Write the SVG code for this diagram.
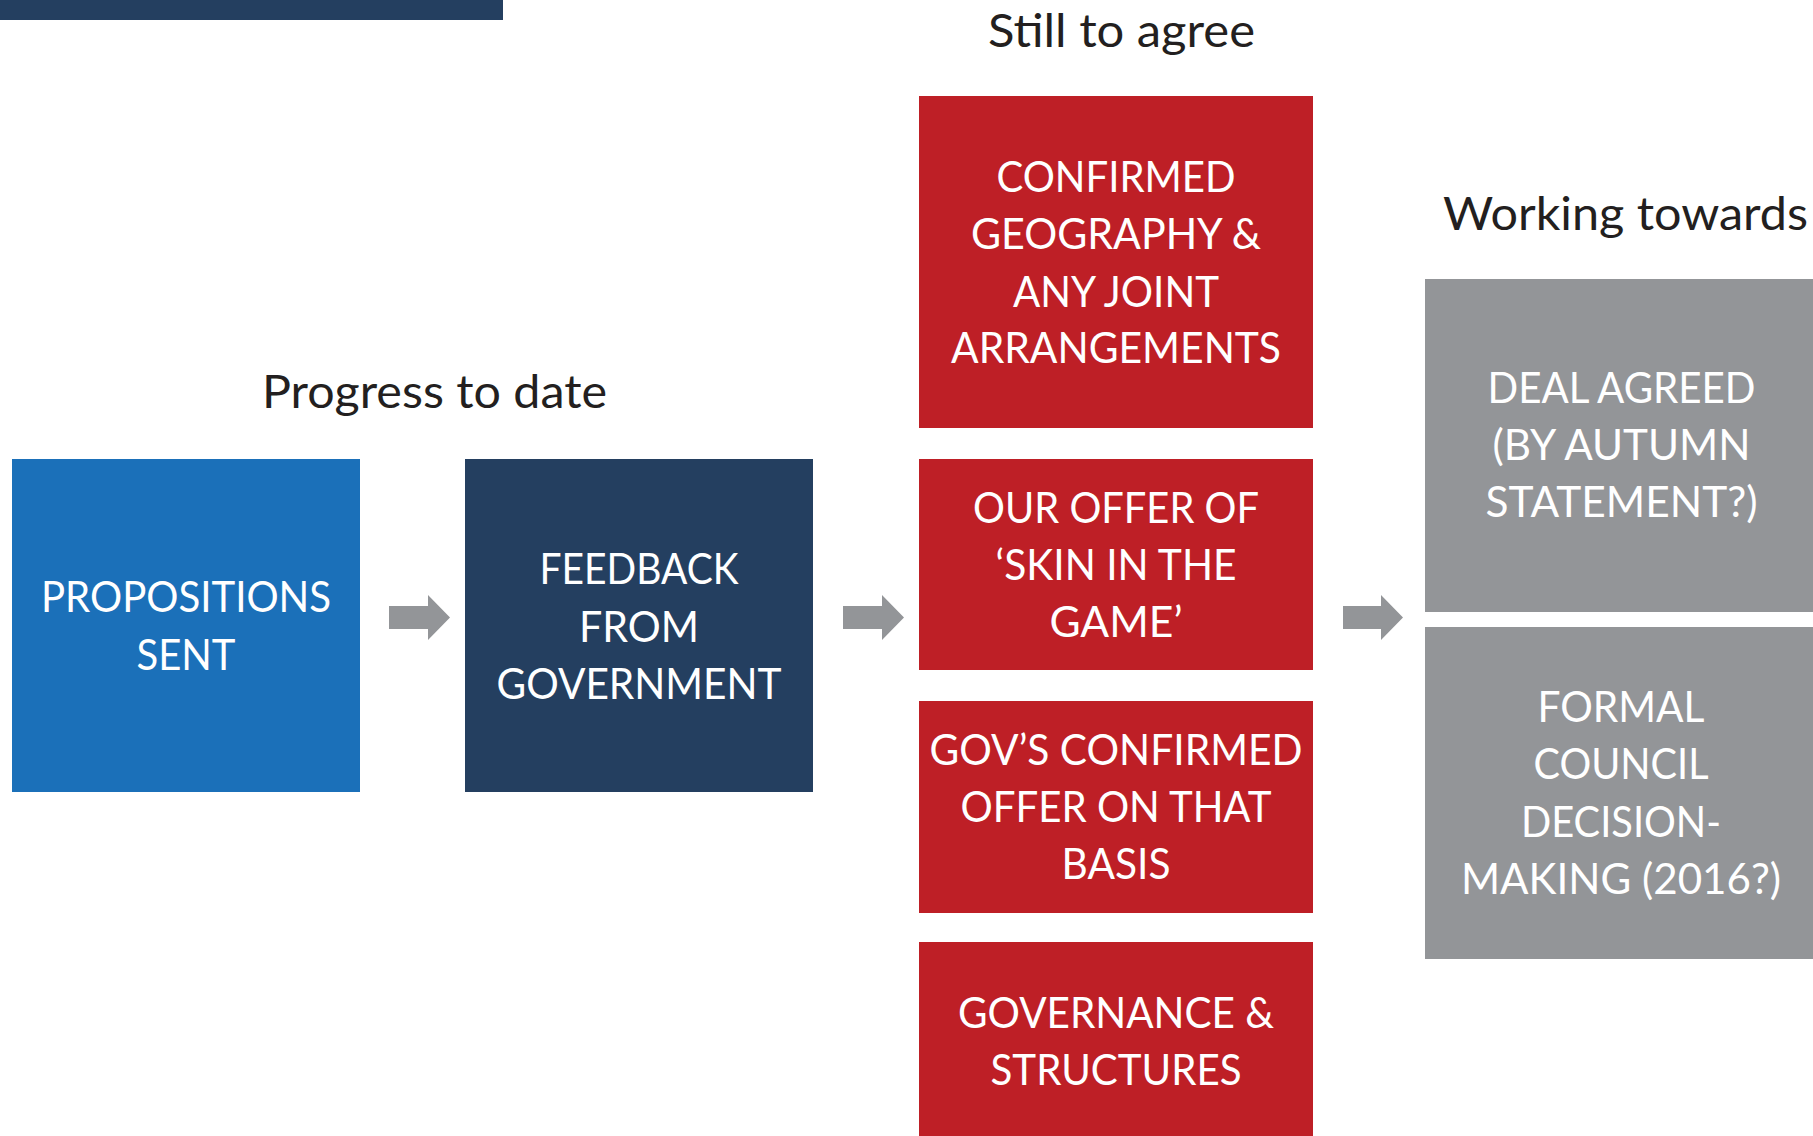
<svg xmlns="http://www.w3.org/2000/svg" width="1813" height="1136" viewBox="0 0 1813 1136">
<style>
.hdr{font-family:Lato,"Open Sans","Liberation Sans",sans-serif;font-size:46.5px;fill:#231f20;text-anchor:middle}
.lbl{font-family:Lato,"Open Sans","Liberation Sans",sans-serif;font-size:42.5px;fill:#ffffff;text-anchor:middle}
.blue{fill:#1b70b9}
.navy{fill:#243f60}
.red{fill:#be1f26}
.grey{fill:#939598}
.arrow{fill:#939598}
</style>
<rect x="0" y="0" width="503" height="20" class="navy"/>
<text class="hdr" x="434.5" y="408" textLength="345" lengthAdjust="spacingAndGlyphs">Progress to date</text>
<text class="hdr" x="1121.5" y="47" textLength="267" lengthAdjust="spacingAndGlyphs">Still to agree</text>
<text class="hdr" x="1625.5" y="230" textLength="365" lengthAdjust="spacingAndGlyphs">Working towards</text>

<g id="propositions">
<rect x="12" y="459" width="348" height="333" class="blue"/>
<text class="lbl" x="186" y="612" textLength="290" lengthAdjust="spacingAndGlyphs">PROPOSITIONS</text>
<text class="lbl" x="186" y="670" textLength="99" lengthAdjust="spacingAndGlyphs">SENT</text>
</g>
<g id="feedback">
<rect x="465" y="459" width="348" height="333" class="navy"/>
<text class="lbl" x="639" y="584" textLength="199" lengthAdjust="spacingAndGlyphs">FEEDBACK</text>
<text class="lbl" x="639" y="641.5" textLength="120" lengthAdjust="spacingAndGlyphs">FROM</text>
<text class="lbl" x="639" y="699" textLength="285" lengthAdjust="spacingAndGlyphs">GOVERNMENT</text>
</g>
<g id="geography">
<rect x="919" y="96" width="394" height="332" class="red"/>
<text class="lbl" x="1116" y="191.5" textLength="239" lengthAdjust="spacingAndGlyphs">CONFIRMED</text>
<text class="lbl" x="1116" y="249" textLength="290" lengthAdjust="spacingAndGlyphs">GEOGRAPHY &amp;</text>
<text class="lbl" x="1116" y="306.5" textLength="206" lengthAdjust="spacingAndGlyphs">ANY JOINT</text>
<text class="lbl" x="1116" y="363" textLength="330" lengthAdjust="spacingAndGlyphs">ARRANGEMENTS</text>
</g>
<g id="offer">
<rect x="919" y="459" width="394" height="211" class="red"/>
<text class="lbl" x="1116" y="523" textLength="286" lengthAdjust="spacingAndGlyphs">OUR OFFER OF</text>
<text class="lbl" x="1116" y="580" textLength="241" lengthAdjust="spacingAndGlyphs">‘SKIN IN THE</text>
<text class="lbl" x="1116" y="637" textLength="133" lengthAdjust="spacingAndGlyphs">GAME’</text>
</g>
<g id="gov-offer">
<rect x="919" y="701" width="394" height="212" class="red"/>
<text class="lbl" x="1116" y="765" textLength="373" lengthAdjust="spacingAndGlyphs">GOV’S CONFIRMED</text>
<text class="lbl" x="1116" y="822" textLength="311" lengthAdjust="spacingAndGlyphs">OFFER ON THAT</text>
<text class="lbl" x="1116" y="879" textLength="109" lengthAdjust="spacingAndGlyphs">BASIS</text>
</g>
<g id="governance">
<rect x="919" y="942" width="394" height="194" class="red"/>
<text class="lbl" x="1116" y="1028" textLength="316" lengthAdjust="spacingAndGlyphs">GOVERNANCE &amp;</text>
<text class="lbl" x="1116" y="1085" textLength="251" lengthAdjust="spacingAndGlyphs">STRUCTURES</text>
</g>
<g id="deal">
<rect x="1425" y="279" width="393" height="333" class="grey"/>
<text class="lbl" x="1621.5" y="403" textLength="268" lengthAdjust="spacingAndGlyphs">DEAL AGREED</text>
<text class="lbl" x="1621.5" y="460" textLength="258" lengthAdjust="spacingAndGlyphs">(BY AUTUMN</text>
<text class="lbl" x="1621.5" y="517" textLength="272" lengthAdjust="spacingAndGlyphs">STATEMENT?)</text>
</g>
<g id="council">
<rect x="1425" y="627" width="393" height="332" class="grey"/>
<text class="lbl" x="1621" y="722" textLength="167" lengthAdjust="spacingAndGlyphs">FORMAL</text>
<text class="lbl" x="1621" y="779" textLength="175" lengthAdjust="spacingAndGlyphs">COUNCIL</text>
<text class="lbl" x="1621" y="836.5" textLength="200" lengthAdjust="spacingAndGlyphs">DECISION-</text>
<text class="lbl" x="1621" y="894" textLength="320" lengthAdjust="spacingAndGlyphs">MAKING (2016?)</text>
</g>
<g id="connectors">
<polygon class="arrow" points="389,606 428,606 428,595 450,617.5 428,640 428,629 389,629"/>
<polygon class="arrow" points="843,606 882,606 882,595 904,617.5 882,640 882,629 843,629"/>
<polygon class="arrow" points="1343,606 1381,606 1381,595 1403,617.5 1381,640 1381,629 1343,629"/>
</g>
</svg>
